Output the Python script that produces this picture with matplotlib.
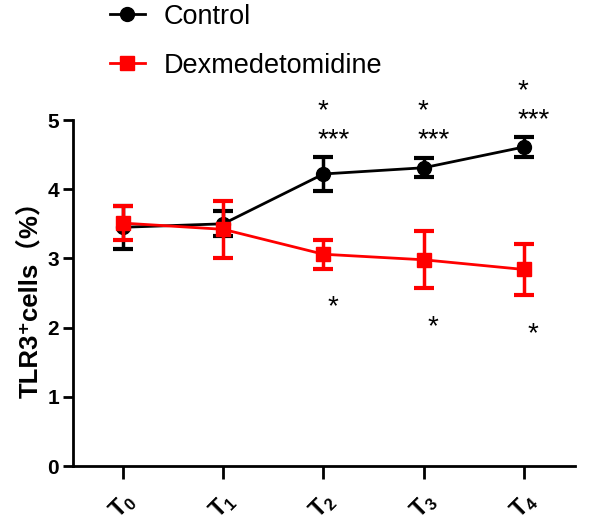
import matplotlib
matplotlib.use("Agg")
import matplotlib.pyplot as plt
from matplotlib.lines import Line2D

# data (mean +/- error)
timepoints = ["T$_\\mathbf{0}$", "T$_\\mathbf{1}$", "T$_\\mathbf{2}$", "T$_\\mathbf{3}$", "T$_\\mathbf{4}$"]
control_mean = [3.45, 3.50, 4.22, 4.31, 4.61]
control_err = [0.31, 0.18, 0.24, 0.14, 0.14]
dex_mean = [3.51, 3.42, 3.06, 2.98, 2.84]
dex_err = [0.25, 0.41, 0.21, 0.41, 0.37]

# significance marks
control_upper = ["", "", "*", "*", "*"]
control_lower = ["", "", "***", "***", "***"]
dex_marks = ["", "", "*", "*", "*"]

plt.rcParams['font.family'] = ['Liberation Sans', 'Noto Sans CJK SC', 'DejaVu Sans']
plt.rcParams['mathtext.fontset'] = 'custom'
plt.rcParams['mathtext.rm'] = 'Liberation Sans:bold'
plt.rcParams['mathtext.bf'] = 'Liberation Sans:bold'

fig = plt.figure(figsize=(6, 5.27), dpi=100)
ax = fig.add_axes([73 / 600, 1 - 466 / 527, (575 - 73) / 600, (466 - 120) / 527])

x = list(range(len(timepoints)))

ax.errorbar(x, control_mean, yerr=control_err, color='black', marker='o', markersize=10,
            linewidth=2, elinewidth=2.5, capsize=7, capthick=3, zorder=3)
ax.errorbar(x, dex_mean, yerr=dex_err, color='#ff0000', marker='s', markersize=10,
            linewidth=2, elinewidth=2.5, capsize=7, capthick=3, zorder=4)

# star annotations
for i in x:
    top = control_mean[i] + control_err[i]
    if control_lower[i]:
        ax.text(i - 0.06, top + 0.15, control_lower[i], ha='left', va='baseline', fontsize=20)
        ax.text(i - 0.06, top + 0.57, control_upper[i], ha='left', va='baseline', fontsize=20)
    if dex_marks[i]:
        bottom = dex_mean[i] - dex_err[i]
        ax.text(i + 0.09, bottom - 0.66, dex_marks[i], ha='center', va='baseline', fontsize=20)

ax.set_xlim(-0.5, 4.51)
ax.set_ylim(0, 5)
ax.set_yticks([0, 1, 2, 3, 4, 5])
ax.set_xticks(x)
ax.set_xticklabels(timepoints, rotation=45, fontsize=17, fontweight='bold', ha='center')
for lab in ax.get_yticklabels():
    lab.set_fontweight('bold')
    lab.set_fontsize(15)

ax.spines['top'].set_visible(False)
ax.spines['right'].set_visible(False)
ax.spines['left'].set_linewidth(2)
ax.spines['bottom'].set_linewidth(2)
ax.tick_params(axis='both', width=2, length=7, pad=3)
ax.tick_params(axis='x', length=9, pad=7)

ax.set_ylabel('TLR3⁺cells（%）', fontsize=18.5, fontweight='bold', labelpad=4)

handles = [
    Line2D([], [], color='black', marker='o', markersize=10, linewidth=2),
    Line2D([], [], color='#ff0000', marker='s', markersize=10, linewidth=2),
]
labels = ['Control', 'Dexmedetomidine']
fig.legend(handles, labels, loc='upper left', bbox_to_anchor=(96 / 600, 1 + 10 / 527),
           frameon=False, fontsize=19.5, handlelength=1.3, handletextpad=0.7,
           labelspacing=0.85, borderpad=0)

fig.savefig('out.png', dpi=100)
